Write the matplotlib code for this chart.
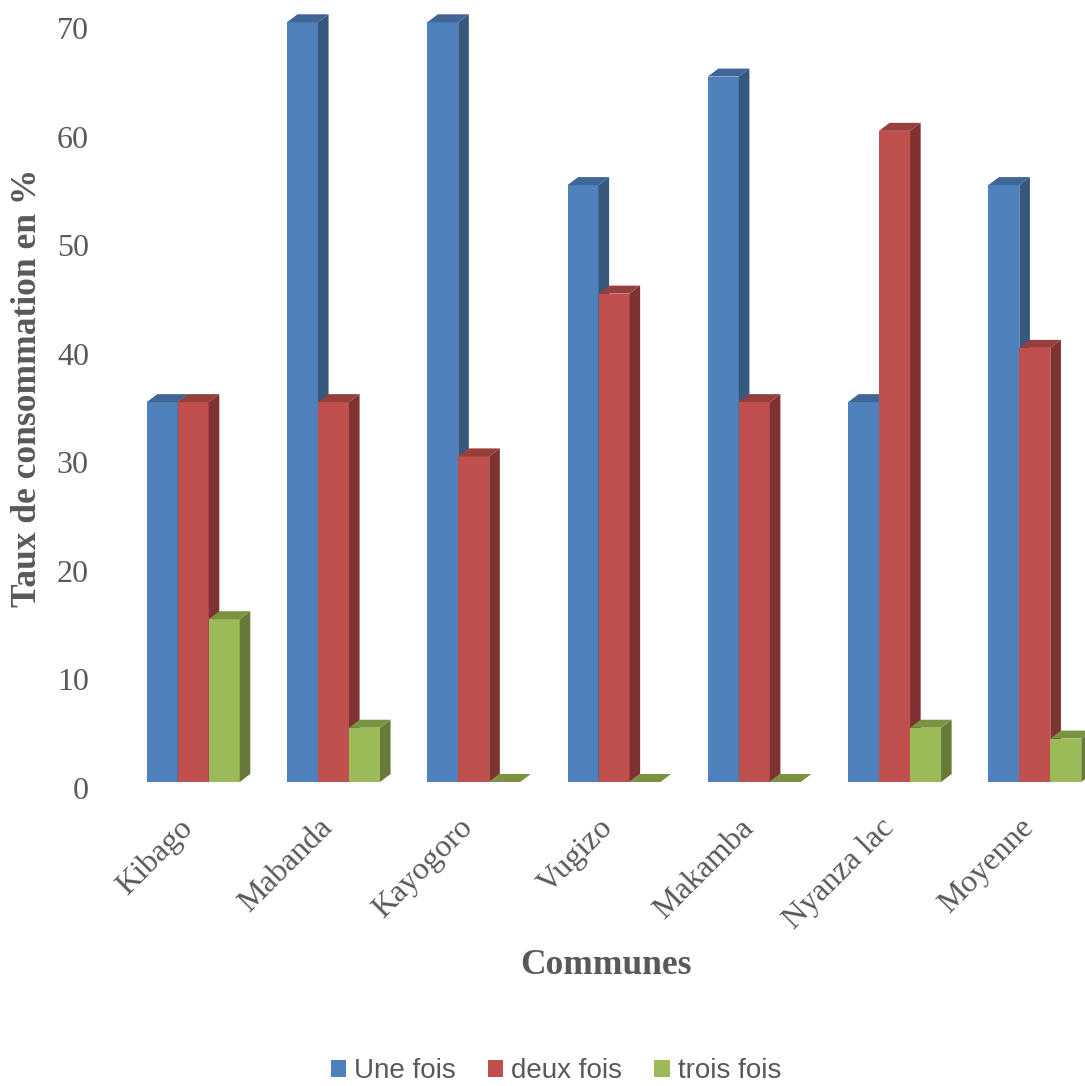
import numpy as np
import matplotlib
matplotlib.use('Agg')
import matplotlib.pyplot as plt
from matplotlib.patches import Polygon, Patch
from matplotlib.transforms import ScaledTranslation

communes = ['Kibago', 'Mabanda', 'Kayogoro', 'Vugizo', 'Makamba', 'Nyanza lac', 'Moyenne']
une_fois = [35, 70, 70, 55, 65, 35, 55]
deux_fois = [35, 35, 30, 45, 35, 60, 40]
trois_fois = [15, 5, 0, 0, 0, 5, 4]
series_names = ['Une fois', 'deux fois', 'trois fois']
y_ticks = [0, 10, 20, 30, 40, 50, 60, 70]

# front, side, top shades for each series
shades = [
    ('#4F81BD', '#36587F', '#3F6696'),
    ('#C0504D', '#7E3231', '#963F3C'),
    ('#9BBB59', '#677A3A', '#7A9340'),
]

TEXT = '#595959'
plt.rcParams['font.family'] = ['Liberation Serif', 'DejaVu Serif']

W, H = 1085, 1086
fig = plt.figure(figsize=(W / 100, H / 100), dpi=100)
# axes box in pixels: x 100..1085, y 0 at 782 px, 70 at 22 px from top
ax = fig.add_axes([100 / W, (H - 782) / H, (W - 100) / W, (782 - 22.3) / H])

pitch = 140.27
x0_px = 193.2
ax.set_xlim((100 - x0_px) / pitch, (W - x0_px) / pitch)
ax.set_ylim(0, 70)

bar_w = 31.0 / pitch
px_per_unit = (782 - 22.3) / 70
dx = 10.6 / pitch
dy = 8.0 / px_per_unit


def draw_bar(left, h, cols):
    front, side, top = cols
    r = left + bar_w
    ax.add_patch(Polygon([(left, 0), (r, 0), (r, h), (left, h)], closed=True,
                         facecolor=front, edgecolor='none', clip_on=False))
    ax.add_patch(Polygon([(r, 0), (r + dx, dy), (r + dx, h + dy), (r, h)], closed=True,
                         facecolor=side, edgecolor='none', clip_on=False))
    ax.add_patch(Polygon([(left, h), (left + dx, h + dy), (r + dx, h + dy), (r, h)],
                         closed=True, facecolor=top, edgecolor='none', clip_on=False))


all_series = [une_fois, deux_fois, trois_fois]
for i in range(len(communes)):
    for k, vals in enumerate(all_series):
        left = i + (k - 1.5) * bar_w
        draw_bar(left, vals[i], shades[k])

for s in ax.spines.values():
    s.set_visible(False)

ax.set_yticks(y_ticks)
ax.set_yticklabels([str(t) for t in y_ticks], fontsize=23, color=TEXT)
ax.tick_params(axis='y', length=0, pad=8)
for lab in ax.get_yticklabels():
    lab.set_transform(lab.get_transform() + ScaledTranslation(0, -0.06, fig.dpi_scale_trans))

ax.set_xticks(range(len(communes)))
ax.set_xticklabels(communes, fontsize=23, color=TEXT, rotation=45,
                   ha='right', va='center', rotation_mode='anchor')
ax.tick_params(axis='x', length=0, pad=30)
for lab in ax.get_xticklabels():
    lab.set_transform(lab.get_transform() + ScaledTranslation(-0.05, 0, fig.dpi_scale_trans))

fig.text(28 / W, 1 - 388 / H, 'Taux de consommation en %', rotation=90,
         fontsize=25.5, fontweight='bold', color=TEXT, ha='center', va='center')
fig.text(606 / W, 1 - 965 / H, 'Communes', fontsize=25.5, fontweight='bold',
         color=TEXT, ha='center', va='center')

handles = [Patch(facecolor=c[0], edgecolor='none') for c in shades]
leg = fig.legend(handles, series_names, loc='center', ncol=3,
                 bbox_to_anchor=(556 / W, 1 - 1071 / H), frameon=False,
                 prop={'family': 'Liberation Sans', 'size': 20},
                 handlelength=0.55, handleheight=0.55, handletextpad=0.3,
                 columnspacing=1.15, borderpad=0)
for t in leg.get_texts():
    t.set_color(TEXT)

fig.savefig('out.png', dpi=100)
